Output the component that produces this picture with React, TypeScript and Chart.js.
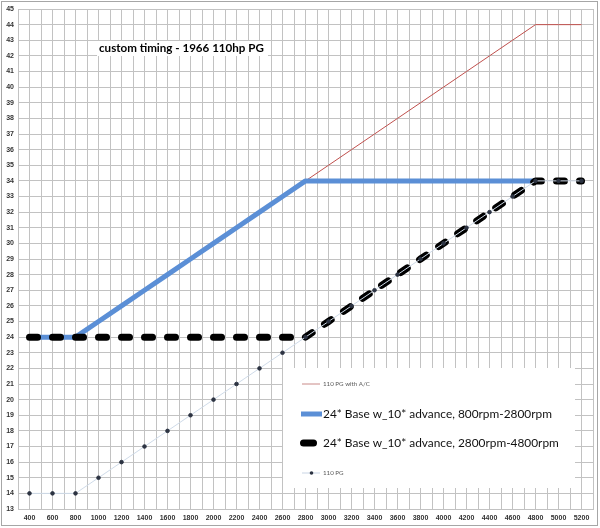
import React, { useEffect, useRef } from "react";
import { Chart, registerables } from "chart.js";

Chart.register(...registerables);

const rpm = [400, 600, 800, 1000, 1200, 1400, 1600, 1800, 2000, 2200, 2400, 2600, 2800, 3000, 3200, 3400, 3600, 3800, 4000, 4200, 4400, 4600, 4800, 5000, 5200];
const pgWithAC = [24, 24, 24, 25, 26, 27, 28, 29, 30, 31, 32, 33, 34, 35, 36, 37, 38, 39, 40, 41, 42, 43, 44, 44, 44];
const base800to2800 = [24, 24, 24, 25, 26, 27, 28, 29, 30, 31, 32, 33, 34, 34, 34, 34, 34, 34, 34, 34, 34, 34, 34, null, null];
const base2800to4800 = [24, 24, 24, 24, 24, 24, 24, 24, 24, 24, 24, 24, 24, 25, 26, 27, 28, 29, 30, 31, 32, 33, 34, 34, 34];
const pg110 = [14, 14, 14, 15, 16, 17, 18, 19, 20, 21, 22, 23, 24, 25, 26, 27, 28, 29, 30, 31, 32, 33, 34, 34, 34];
const xLabels = [400, 600, 800, 1000, 1200, 1400, 1600, 1800, 2000, 2200, 2400, 2600, 2800, 3000, 3200, 3400, 3600, 3800, 4000, 4200, 4400, 4600, 4800, 5000, 5200];
const seriesNames = [
  "110 PG with A/C",
  "24* Base w_10* advance, 800rpm-2800rpm",
  "24* Base w_10* advance, 2800rpm-4800rpm",
  "110 PG",
];
const chartTitle = "custom timing - 1966 110hp PG";

const toPoints = (vals: (number | null)[]) => rpm.map((x, i) => ({ x, y: vals[i] }));

function fitSize(ctx: CanvasRenderingContext2D, text: string, family: string, weight: string, width: number) {
  ctx.font = `${weight} 100px ${family}`;
  const w = ctx.measureText(text).width;
  return (100 * width) / w;
}

const GRID = "#c2c2c2";
const MARKER = "#2c3342";

const decorPlugin = {
  id: "decor",
  beforeDraw(chart: any) {
    const ctx = chart.ctx;
    ctx.save();
    ctx.fillStyle = "#ffffff";
    ctx.fillRect(0, 0, chart.width, chart.height);
    ctx.restore();
  },
  afterDraw(chart: any) {
    const ctx: CanvasRenderingContext2D = chart.ctx;
    ctx.save();
    // outer border
    ctx.strokeStyle = "#a6a6a6";
    ctx.lineWidth = 1;
    ctx.strokeRect(1.5, 1.5, 596, 524);

    // title
    ctx.fillStyle = "#ffffff";
    ctx.fillRect(97, 41, 171, 15);
    const tSize = fitSize(ctx, chartTitle, "Lato", "bold", 165);
    ctx.font = `bold ${tSize}px Lato`;
    ctx.fillStyle = "#000000";
    ctx.textBaseline = "middle";
    ctx.textAlign = "left";
    ctx.fillText(chartTitle, 99, 48.5);

    // legend box
    ctx.fillStyle = "#ffffff";
    ctx.fillRect(283, 368, 292, 120);

    // entry 1
    ctx.strokeStyle = "#c98a88";
    ctx.lineWidth = 1;
    ctx.beginPath();
    ctx.moveTo(302, 384);
    ctx.lineTo(320, 384);
    ctx.stroke();
    ctx.fillStyle = "#595959";
    const sSize = fitSize(ctx, seriesNames[0], "Lato", "normal", 47);
    ctx.font = `${sSize}px Lato`;
    ctx.fillText(seriesNames[0], 323, 384);

    // entry 2
    ctx.strokeStyle = "#5b8fd6";
    ctx.lineWidth = 5;
    ctx.lineCap = "butt";
    ctx.beginPath();
    ctx.moveTo(301, 414);
    ctx.lineTo(322, 414);
    ctx.stroke();
    const bSize = fitSize(ctx, seriesNames[1], "Lato", "normal", 229);
    ctx.font = `${bSize}px Lato`;
    ctx.fillStyle = "#111111";
    ctx.fillText(seriesNames[1], 323, 414);

    // entry 3
    ctx.strokeStyle = "#000000";
    ctx.lineWidth = 7;
    ctx.lineCap = "round";
    ctx.beginPath();
    ctx.moveTo(303.5, 443);
    ctx.lineTo(313.5, 443);
    ctx.stroke();
    ctx.fillText(seriesNames[2], 323, 443);

    // entry 4
    ctx.strokeStyle = "#c9d5e5";
    ctx.lineWidth = 1;
    ctx.lineCap = "butt";
    ctx.beginPath();
    ctx.moveTo(302, 473);
    ctx.lineTo(320, 473);
    ctx.stroke();
    ctx.beginPath();
    ctx.arc(311.5, 473, 1.8, 0, Math.PI * 2);
    ctx.fillStyle = MARKER;
    ctx.fill();
    ctx.fillStyle = "#595959";
    ctx.font = `${sSize}px Lato`;
    ctx.fillText(seriesNames[3], 323, 473);
    ctx.restore();
  },
};

export default function App() {
  const ref = useRef<HTMLCanvasElement>(null);
  useEffect(() => {
    if (!ref.current) return;
    const chart = new Chart(ref.current, {
      type: "line",
      data: {
        datasets: [
          {
            label: seriesNames[0],
            data: toPoints(pgWithAC),
            borderColor: "#c0504d",
            borderWidth: 1,
            pointRadius: 0,
            order: 4,
          },
          {
            label: seriesNames[1],
            data: toPoints(base800to2800),
            borderColor: "#5b8fd6",
            borderWidth: 5,
            pointRadius: 0,
            borderCapStyle: "butt",
            borderJoinStyle: "round",
            order: 3,
          },
          {
            label: seriesNames[2],
            data: toPoints(base2800to4800),
            borderColor: "#000000",
            borderWidth: 7,
            borderDash: [8, 15],
            borderCapStyle: "round",
            borderJoinStyle: "round",
            pointRadius: 0,
            order: 2,
          },
          {
            label: seriesNames[3],
            data: toPoints(pg110),
            borderColor: "#cfdbe9",
            borderWidth: 1,
            pointRadius: 1.8,
            pointStyle: "circle",
            pointBorderColor: MARKER,
            pointBackgroundColor: MARKER,
            pointBorderWidth: 1,
            order: 1,
          },
        ] as any,
      },
      options: {
        animation: false,
        responsive: false,
        devicePixelRatio: 1,
        layout: { padding: { left: 0, top: 9, right: 7, bottom: 0 } },
        plugins: { legend: { display: false }, tooltip: { enabled: false }, title: { display: false } },
        scales: {
          x: {
            type: "linear",
            min: 300,
            max: 5300,
            afterFit: (s: any) => {
              s.height = 19;
            },
            ticks: {
              stepSize: 100,
              autoSkip: false,
              maxRotation: 0,
              padding: 5,
              color: "#333333",
              font: { family: "Liberation Sans", size: 7, weight: "bold" },
              callback: (v: any) => (xLabels.includes(Number(v)) ? String(v) : ""),
            },
            grid: { color: GRID, lineWidth: 1, drawTicks: false },
            border: { color: GRID },
          },
          y: {
            min: 13,
            max: 45,
            afterFit: (s: any) => {
              s.width = 18;
            },
            ticks: {
              stepSize: 1,
              autoSkip: false,
              padding: 4,
              color: "#333333",
              font: { family: "Liberation Sans", size: 7, weight: "bold" },
            },
            grid: { color: GRID, lineWidth: 1, drawTicks: false },
            border: { color: GRID },
          },
        },
      } as any,
      plugins: [decorPlugin],
    });
    return () => chart.destroy();
  }, []);
  return (
    <div style={{ position: "absolute", left: 0, top: 0, width: 600, height: 528 }}>
      <canvas ref={ref} width={600} height={528} style={{ width: 600, height: 528 }} />
    </div>
  );
}
